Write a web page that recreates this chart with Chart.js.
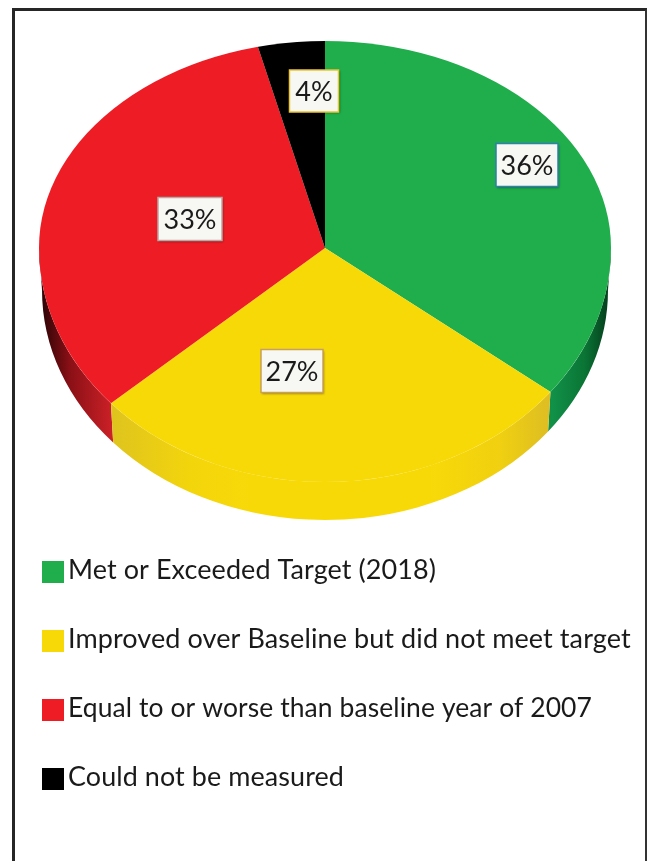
<!DOCTYPE html>
<html>
<head>
<meta charset="utf-8">
<style>
  html, body { margin: 0; padding: 0; background: #fff; overflow: hidden; }
  #frame {
    position: absolute; left: 12px; top: 8px; width: 630px; height: 900px;
    border-top: 3px solid #262626; border-left: 3px solid #262626; border-right: 2px solid #333;
  }
  #pieChart { position: absolute; left: 0; top: 0; }
</style>
<script src="https://cdn.jsdelivr.net/npm/chart.js@4/dist/chart.umd.min.js"></script>
</head>
<body>
<div id="frame"></div>
<canvas id="pieChart" width="647" height="861"></canvas>
<script>
const categories = [
  'Met or Exceeded Target (2018)',
  'Improved over Baseline but did not meet target',
  'Equal to or worse than baseline year of 2007',
  'Could not be measured'
];
const percents = [36, 27, 33, 4];
const sliceColors = ['#1fae4b', '#f8d908', '#ee1c25', '#000000'];
const labelBorders = ['#2f7fb0', '#c9a05a', '#b9a9a4', '#edc52e'];

// pie squashed into a tilted disc, back half flatter than the front
const discY = 248;
const backRy = 207;
const frontRy = 234;
const wallDepth = 42;

// perspective spread of the slice edges: front half fans out, back half pulls in
const frontSpread = 1.06;
const backSpread = 0.94;

// boxes for the percent labels: centre x, centre y, width, height
const labelBoxes = [
  [527, 165, 62, 43],
  [292, 371, 62, 43],
  [190, 219, 64, 43],
  [314, 91, 49, 42]
];

const legendLeft = 42;
const legendRows = [579, 648, 717, 786];
const legendTextWidths = [368, 563, 524, 276];

function wallGradient(ctx, index) {
  const stops = {
    0: [[553, '#119048'], [585, '#0a7434'], [609, '#053d1c']],
    1: [[114, '#dfc41e'], [190, '#f3d50c'], [250, '#f8d908'], [430, '#f8d908'], [500, '#f0d010'], [553, '#dcbc24']],
    2: [[42, '#2e0406'], [70, '#8a1016'], [115, '#cf2228']]
  }[index];
  if (!stops) return '#000';
  const grad = ctx.createLinearGradient(stops[0][0], 0, stops[stops.length - 1][0], 0);
  const span = stops[stops.length - 1][0] - stops[0][0];
  stops.forEach(s => grad.addColorStop((s[0] - stops[0][0]) / span, s[1]));
  return grad;
}

// where a slice edge meets the rim once the front half is spread sideways
function rimAngle(a) {
  return Math.atan2(Math.sin(a), frontSpread * Math.cos(a));
}

// outer wall of a slice, only the part in the front half shows
function drawWall(ctx, el, index) {
  const a0 = rimAngle(Math.max(el.startAngle, 0));
  const a1 = rimAngle(Math.min(el.endAngle, Math.PI));
  if (el.startAngle > Math.PI || a1 <= a0) return;
  const r = el.outerRadius;
  ctx.beginPath();
  ctx.ellipse(el.x, discY, r, frontRy, 0, a0, a1);
  ctx.ellipse(el.x, discY + wallDepth, r - 3, frontRy - 4, 0, a1, a0, true);
  ctx.closePath();
  ctx.fillStyle = wallGradient(ctx, index);
  ctx.fill();
}

// one half of the top face, clipped to the rim
function drawHalf(ctx, chart, arcs, top, height, ry, spread) {
  const cx = arcs[0].x;
  const r = arcs[0].outerRadius;
  const grow = 1.12;
  ctx.save();
  ctx.beginPath();
  ctx.rect(0, top, chart.width, height);
  ctx.clip();
  ctx.beginPath();
  ctx.ellipse(cx, discY, r, ry, 0, 0, Math.PI * 2);
  ctx.clip();
  ctx.translate(cx, discY);
  ctx.scale(grow * spread, grow * ry / r);
  ctx.translate(-cx, -arcs[0].y);
  arcs.forEach(a => a.draw(ctx));
  ctx.restore();
}

const tiltedPie = {
  id: 'tiltedPie',
  beforeDatasetsDraw(chart) {
    const ctx = chart.ctx;
    const arcs = chart.getDatasetMeta(0).data;
    [3, 2, 0, 1].forEach(i => drawWall(ctx, arcs[i], i));
    drawHalf(ctx, chart, arcs, 0, discY, backRy, backSpread);
    drawHalf(ctx, chart, arcs, discY, chart.height - discY, frontRy, frontSpread);
    return false;
  },
  afterDraw(chart) {
    const ctx = chart.ctx;
    ctx.save();

    // percent labels
    ctx.font = '27px Lato';
    ctx.textAlign = 'center';
    ctx.textBaseline = 'middle';
    percents.forEach((v, i) => {
      const b = labelBoxes[i];
      const x = b[0] - b[2] / 2;
      const y = b[1] - b[3] / 2;
      ctx.shadowColor = 'rgba(0,0,0,0.35)';
      ctx.shadowBlur = 2;
      ctx.shadowOffsetX = 1;
      ctx.shadowOffsetY = 1;
      ctx.fillStyle = '#f7f7f3';
      ctx.fillRect(x, y, b[2], b[3]);
      ctx.shadowColor = 'transparent';
      ctx.strokeStyle = labelBorders[i];
      ctx.lineWidth = 1.5;
      ctx.strokeRect(x, y, b[2], b[3]);
      ctx.fillStyle = '#1a1a1a';
      ctx.fillText(v + '%', b[0], b[1] + 1);
    });

    // legend
    ctx.font = '27px Lato';
    ctx.letterSpacing = '0.09px';
    ctx.textAlign = 'left';
    ctx.textBaseline = 'alphabetic';
    categories.forEach((name, i) => {
      ctx.fillStyle = sliceColors[i];
      ctx.fillRect(legendLeft, legendRows[i] - 18, 22, 22);
      ctx.fillStyle = '#1a1a1a';
      ctx.fillText(name, legendLeft + 26, legendRows[i], legendTextWidths[i]);
    });
    ctx.restore();
  }
};

new Chart(document.getElementById('pieChart'), {
  type: 'pie',
  data: {
    labels: categories,
    datasets: [{
      data: percents,
      backgroundColor: sliceColors,
      borderWidth: 0
    }]
  },
  options: {
    responsive: false,
    animation: false,
    layout: { padding: { left: 39, right: 36, top: 0, bottom: 289 } },
    plugins: {
      legend: { display: false },
      tooltip: { enabled: false }
    }
  },
  plugins: [tiltedPie]
});
</script>
</body>
</html>
